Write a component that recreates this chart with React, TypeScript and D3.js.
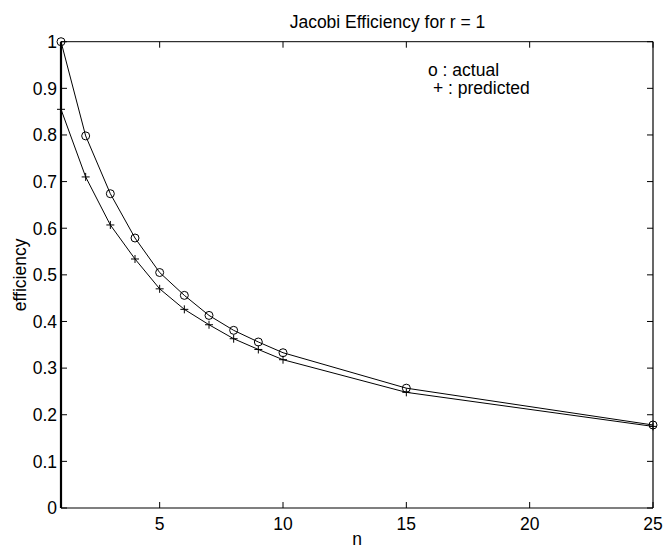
import React from "react";
import * as d3 from "d3";

const nValues = [1, 2, 3, 4, 5, 6, 7, 8, 9, 10, 15, 25];
const actual = [1.0, 0.798, 0.674, 0.579, 0.505, 0.456, 0.413, 0.381, 0.356, 0.333, 0.257, 0.178];
const predicted = [0.855, 0.71, 0.607, 0.534, 0.47, 0.426, 0.393, 0.363, 0.34, 0.318, 0.248, 0.175];
const xTicks = [5, 10, 15, 20, 25];
const yTicks = [0, 0.1, 0.2, 0.3, 0.4, 0.5, 0.6, 0.7, 0.8, 0.9, 1];
const yTickLabels = ["0", "0.1", "0.2", "0.3", "0.4", "0.5", "0.6", "0.7", "0.8", "0.9", "1"];

const W = 663;
const H = 549;
const L = 61, R = 653, T = 41.7, B = 508;
const FONT = "'Liberation Sans', Arial, Helvetica, sans-serif";
const FS = 17.5;

export default function App() {
  const x = d3.scaleLinear().domain([1, 25]).range([L, R]);
  const y = d3.scaleLinear().domain([0, 1]).range([B, T]);
  const line = d3.line<number>().x((_, i) => x(nValues[i])).y((d) => y(d));
  const tl = 6;
  return (
    <svg width={W} height={H} style={{ position: "absolute", left: 0, top: 0, background: "#fff" }} fontFamily={FONT}>
      <rect x={0} y={0} width={W} height={H} fill="#fff" />
      {/* axes box */}
      <line x1={L} y1={T} x2={R} y2={T} stroke="#000" strokeWidth={1} />
      <line x1={R} y1={T} x2={R} y2={B} stroke="#000" strokeWidth={1.2} />
      <line x1={L} y1={B} x2={R} y2={B} stroke="#000" strokeWidth={1.2} />
      <line x1={L} y1={T} x2={L} y2={B} stroke="#000" strokeWidth={2.2} />
      {/* x ticks */}
      {xTicks.map((t) => (
        <g key={"xt" + t}>
          <line x1={x(t)} x2={x(t)} y1={B} y2={B - tl} stroke="#000" />
          <line x1={x(t)} x2={x(t)} y1={T} y2={T + tl} stroke="#000" />
          <text x={x(t)} y={529.5} fontSize={FS} textAnchor="middle">{t}</text>
        </g>
      ))}
      {/* y ticks */}
      {yTicks.map((t, i) => (
        <g key={"yt" + t}>
          <line x1={L} x2={L + tl} y1={y(t)} y2={y(t)} stroke="#000" />
          <line x1={R} x2={R - tl} y1={y(t)} y2={y(t)} stroke="#000" />
          <text x={57} y={y(t)} dy="0.36em" fontSize={FS} textAnchor="end">{yTickLabels[i]}</text>
        </g>
      ))}
      {/* series */}
      <path d={line(actual) || ""} fill="none" stroke="#000" strokeWidth={1} />
      <path d={line(predicted) || ""} fill="none" stroke="#000" strokeWidth={1} />
      {actual.map((v, i) => (
        <circle key={"a" + i} cx={x(nValues[i])} cy={y(v)} r={4} fill="none" stroke="#000" strokeWidth={1} />
      ))}
      {predicted.map((v, i) => (
        <path key={"p" + i} d={`M${x(nValues[i]) - 4},${y(v)}h8M${x(nValues[i])},${y(v) - 4}v8`} stroke="#000" strokeWidth={1} />
      ))}
      {/* legend text */}
      <text x={428} y={70} dy="0.36em" fontSize={FS}>o : actual</text>
      <text x={433} y={88} dy="0.36em" fontSize={FS}>+ : predicted</text>
      {/* titles */}
      <text x={387.5} y={22} dy="0.36em" fontSize={FS} textAnchor="middle">Jacobi Efficiency for r = 1</text>
      <text x={357} y={545} fontSize={FS} textAnchor="middle">n</text>
      <text transform={`translate(26,${(T + B) / 2}) rotate(-90)`} fontSize={FS} textAnchor="middle">efficiency</text>
    </svg>
  );
}
